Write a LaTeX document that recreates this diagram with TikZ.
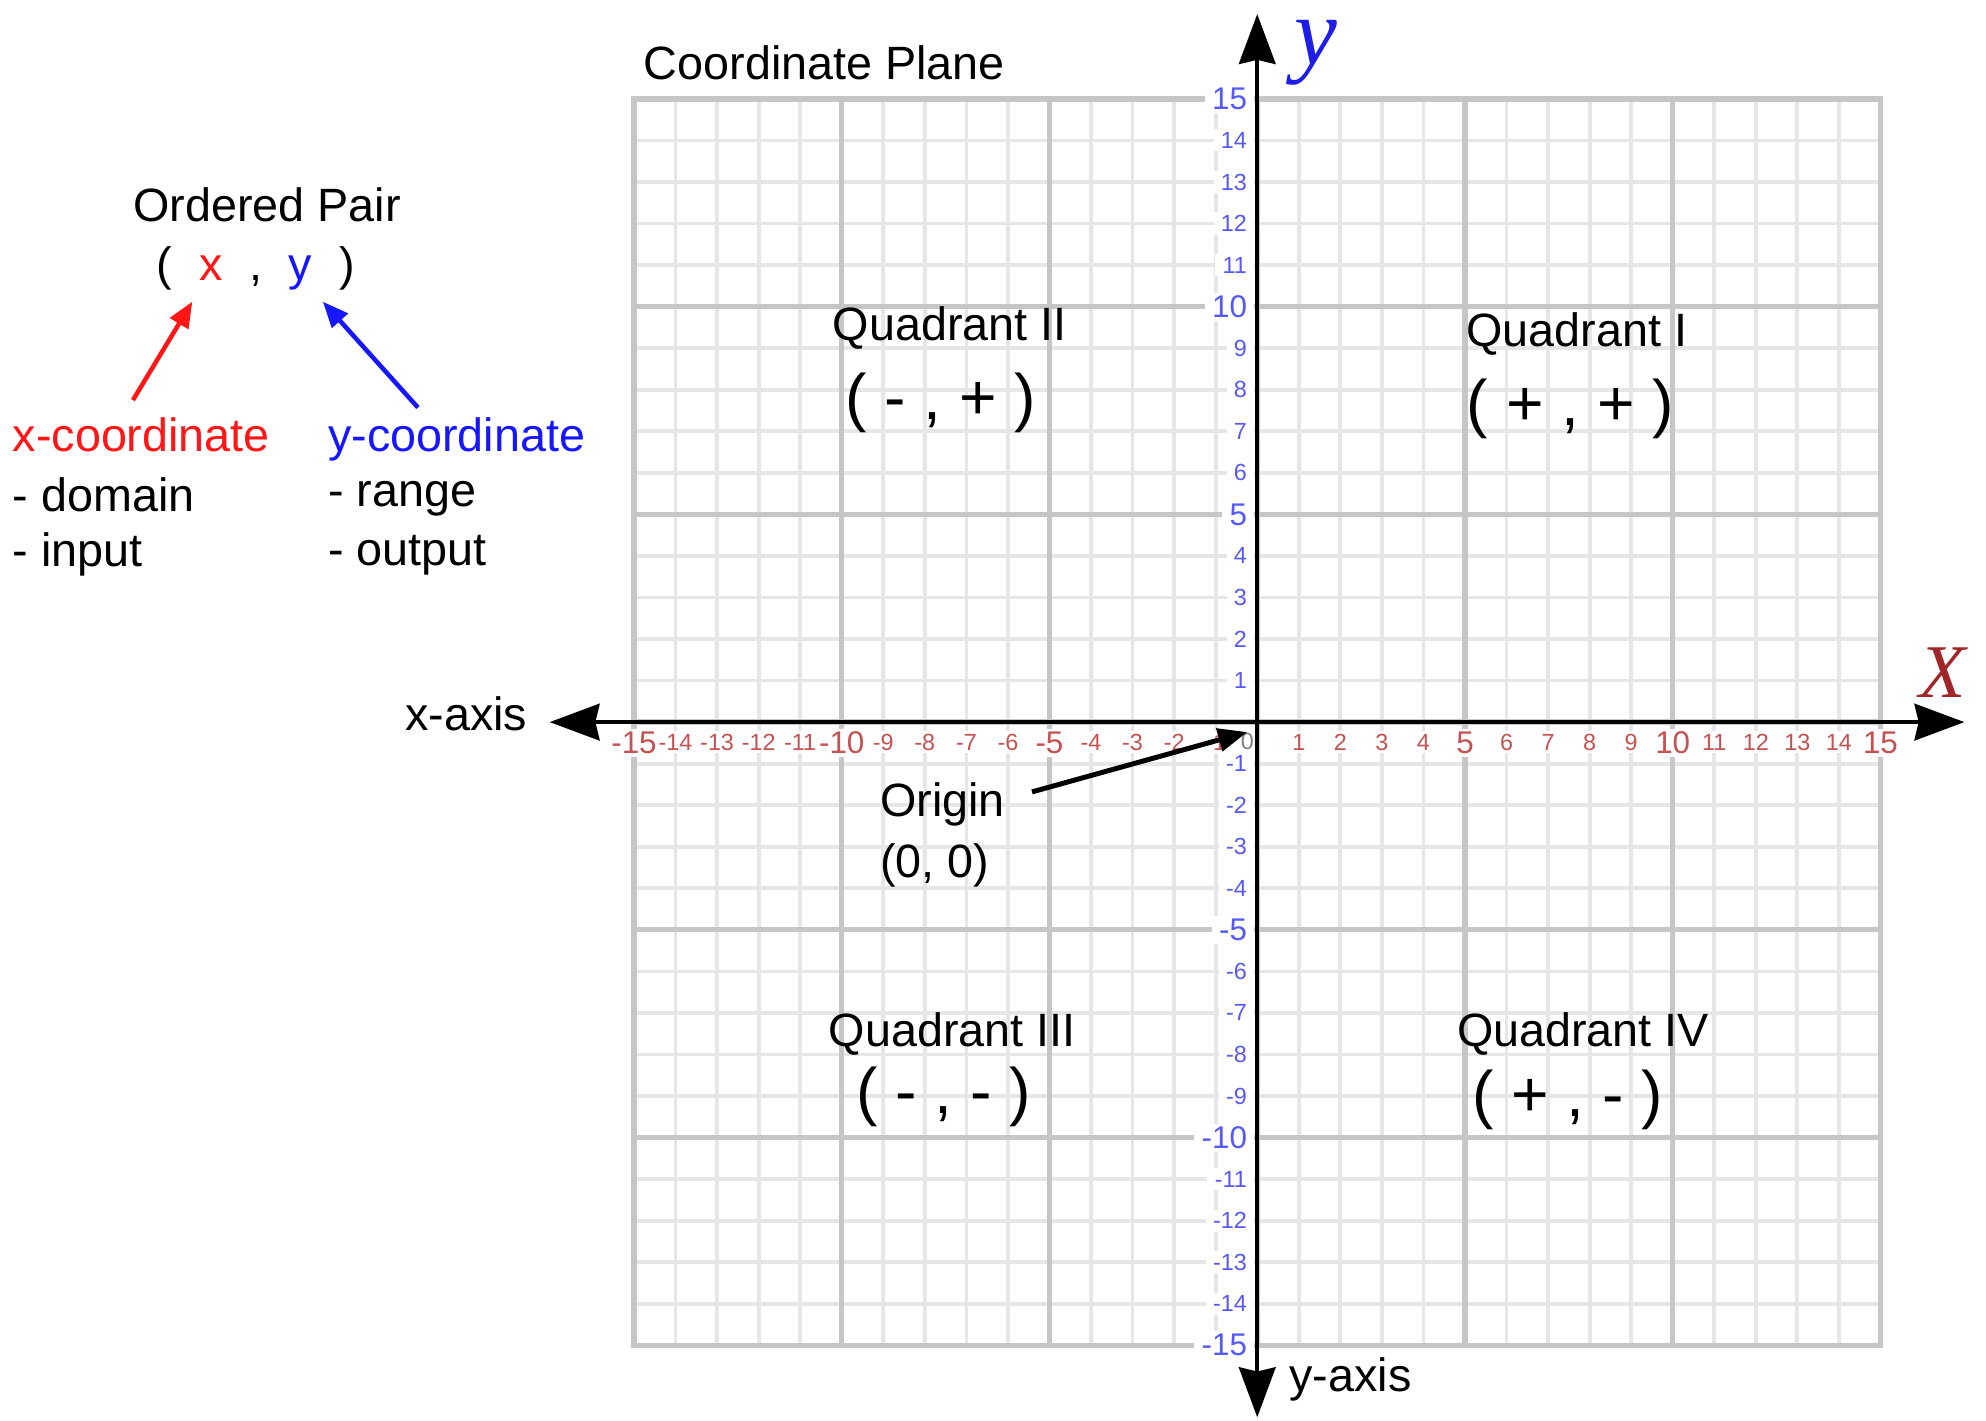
\documentclass[tikz,border=0pt]{standalone}
\usepackage{fontspec}
\setmainfont{Liberation Sans}
\newfontfamily\axisfont{Liberation Serif}
\usepackage{xcolor}
\usepackage{tikz}
\usetikzlibrary{arrows.meta}
\usetikzlibrary{positioning}

\definecolor{xcoord}{RGB}{255,22,22}
\definecolor{ycoord}{RGB}{22,22,255}
\definecolor{xticktext}{RGB}{196,82,82}
\definecolor{yticktext}{RGB}{88,88,245}
\definecolor{xletter}{RGB}{160,38,40}
\definecolor{yletter}{RGB}{30,30,230}
\definecolor{minorgrid}{RGB}{230,230,230}
\definecolor{majorgrid}{RGB}{198,198,198}

\begin{document}
\begin{tikzpicture}[
  every node/.style={inner sep=0pt, font=\fontsize{32}{38}\selectfont},
  minorline/.style={draw=minorgrid, line width=2.6pt},
  majorline/.style={draw=majorgrid, line width=3.6pt, line cap=rect},
  axisline/.style={draw, line width=2.8pt,
    {Stealth[length=1.2cm, width=0.88cm, inset=0.1cm]}-{Stealth[length=1.2cm, width=0.88cm, inset=0.1cm]}},
  pointer/.style={line width=3.1pt, -{Triangle[length=0.62cm, width=0.5cm]}},
  xtick/.style={text=xticktext, fill=white, inner xsep=1pt, inner ysep=2pt, font=\fontsize{16}{19}\selectfont},
  ytick/.style={text=yticktext, fill=white, inner xsep=0.18cm, inner ysep=2pt, anchor=east, font=\fontsize{16}{19}\selectfont},
  bigtick/.style={font=\fontsize{21.5}{25}\selectfont},
  signs/.style={font=\fontsize{44}{52}\selectfont}
]
\useasboundingbox (-30.26,-16.82) rectangle (17.54,17.38);

\foreach \i in {-14,-13,-12,-11,-9,-8,-7,-6,-4,-3,-2,-1,1,2,3,4,6,7,8,9,11,12,13,14} {
  \draw[minorline] (\i,-15) -- (\i,15);
  \draw[minorline] (-15,\i) -- (15,\i);
}
\foreach \i in {-15,-10,...,15} {
  \draw[majorline] (\i,-15) -- (\i,15);
  \draw[majorline] (-15,\i) -- (15,\i);
}

\foreach \i in {-14,-13,-12,-11,-9,-8,-7,-6,-4,-3,-2,-1,1,2,3,4,6,7,8,9,11,12,13,14} {
  \node[xtick] (xt\i) at (\i,-0.48) {\i};
  \node[ytick] (yt\i) at (-0.06,\i) {\i};
}
\foreach \i in {-15,-10,-5,5,10,15} {
  \node[xtick, bigtick] (xt\i) at (\i,-0.5) {\i};
  \node[ytick, bigtick] (yt\i) at (-0.06,\i) {\i};
}
\node[xtick, fill=none, text=gray] (xt0) at (-0.24,-0.46) {0};

\coordinate (xminus) at (-17.03,0);
\coordinate (xplus) at (17.02,0);
\coordinate (yplus) at (0,17.04);
\coordinate (yminus) at (0,-16.73);
\draw[axisline] (xminus) -- (xplus);
\draw[axisline] (yminus) -- (yplus);

\node[text=xletter, font=\axisfont\itshape\fontsize{52}{60}\selectfont] (xname) at (16.5,1.2) {X};
\node[text=yletter, font=\axisfont\itshape\fontsize{66}{74}\selectfont] (yname) at (1.41,16.12) {y};
\node[anchor=base east] (xaxis) at (-17.56,-0.21) {x-axis};
\node[anchor=base west] (yaxis) at (0.77,-16.1) {y-axis};
\node[anchor=base] (title) at (-10.42,15.46) {Coordinate Plane};

\node[anchor=base] (quad2) at (-7.40,9.19) {Quadrant II};
\node[signs] (sign2) at (-7.62,7.68) {( - , + )};
\node[anchor=base] (quad1) at (7.69,9.04) {Quadrant I};
\node[signs] (sign1) at (7.54,7.53) {( + , + )};
\node[anchor=base] (quad3) at (-7.34,-7.81) {Quadrant III};
\node[signs] (sign3) at (-7.55,-9.02) {( - , - )};
\node[anchor=base] (quad4) at (7.84,-7.81) {Quadrant IV};
\node[signs] (sign4) at (7.47,-9.09) {( + , - )};

\node[anchor=base west] (origin) at (-9.08,-2.26) {Origin};
\node[anchor=base west] (zero) at (-9.08,-3.73) {(0, 0)};
\coordinate (originfoot) at (-5.42,-1.68);
\coordinate (origintip) at (-0.24,-0.24);
\draw[pointer, line width=3.4pt, -{Triangle[length=0.7cm, width=0.55cm]}] (originfoot) -- (origintip);

\node[anchor=base] (pair) at (-23.83,12.04) {Ordered Pair};
\node[anchor=base] (lpar) at (-26.30,10.64) {(};
\node[anchor=base, text=xcoord] (xvar) at (-25.17,10.64) {x};
\node[anchor=base] (comma) at (-24.11,10.64) {,};
\node[anchor=base, text=ycoord] (yvar) at (-23.04,10.64) {y};
\node[anchor=base] (rpar) at (-21.91,10.64) {)};

\node[anchor=base west, text=xcoord] (xcoordtext) at (-29.96,6.52) {x-coordinate};
\node[anchor=base west] (domain) at (-29.96,5.06) {- domain};
\node[anchor=base west] (input) at (-29.96,3.75) {- input};
\node[anchor=base west, text=ycoord] (ycoordtext) at (-22.37,6.52) {y-coordinate};
\node[anchor=base west] (range) at (-22.37,5.2) {- range};
\node[anchor=base west] (output) at (-22.37,3.78) {- output};

\coordinate (xfoot) at (-27.06,7.75);
\coordinate (xtip) at (-25.63,10.12);
\coordinate (yfoot) at (-20.20,7.57);
\coordinate (ytip) at (-22.49,10.12);
\draw[pointer, xcoord] (xfoot) -- (xtip);
\draw[pointer, ycoord] (yfoot) -- (ytip);
\end{tikzpicture}
\end{document}
